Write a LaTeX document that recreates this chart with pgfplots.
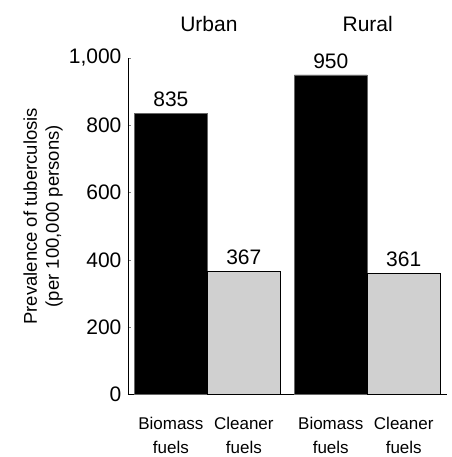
\documentclass[border=0pt]{standalone}
\usepackage{pgfplots}
\pgfplotsset{compat=1.18}
\usepackage{fontspec}
\setmainfont{Liberation Sans}
\definecolor{lightbar}{HTML}{D0D0D0}
\begin{document}
\begin{tikzpicture}
  \begin{axis}[
      scale only axis,
      width=319pt, height=337pt,
      xmin=128, xmax=447,
      ymin=0, ymax=1000,
      axis lines=left,
      axis line style={-, line width=0.6pt},
      clip=false,
      ybar, bar width=73, bar shift=0pt,
      ytick={0,200,...,1000},
      yticklabel style={/pgf/number format/1000 sep={,}, font=\fontsize{21}{24}\selectfont, xshift=-3pt},
      /pgf/number format/assume math mode=true,
      tick align=inside,
      major tick length=3pt,
      xtick={171,244,331,404},
      xticklabels={Biomass\\fuels, Cleaner\\fuels, Biomass\\fuels, Cleaner\\fuels},
      x tick style={draw=none},
      y tick style={line width=0.6pt},
      xticklabel style={align=center, yshift=-19pt, font=\fontsize{17}{24}\selectfont},
      ylabel={Prevalence of tuberculosis\\(per 100,000 persons)},
      ylabel style={align=center, font=\fontsize{18.5}{22}\selectfont,
        at={(axis description cs:-0.266,0.53)}, anchor=center},
      nodes near coords,
      every node near coord/.append style={font=\fontsize{21}{24}\selectfont, yshift=3pt},
    ]
    \addplot[fill=black, draw=black!60, line width=0.4pt] coordinates {(171,835) (331,950)};
    \addplot[fill=lightbar, draw=black, line width=0.4pt] coordinates {(244,367) (404,361)};
    \node[font=\fontsize{21}{24}\selectfont] at (axis cs:209,1102) {Urban};
    \node[font=\fontsize{21}{24}\selectfont] at (axis cs:368,1102) {Rural};
    \path (axis cs:0,-184) rectangle (axis cs:452,1172);
  \end{axis}
\end{tikzpicture}
\end{document}
